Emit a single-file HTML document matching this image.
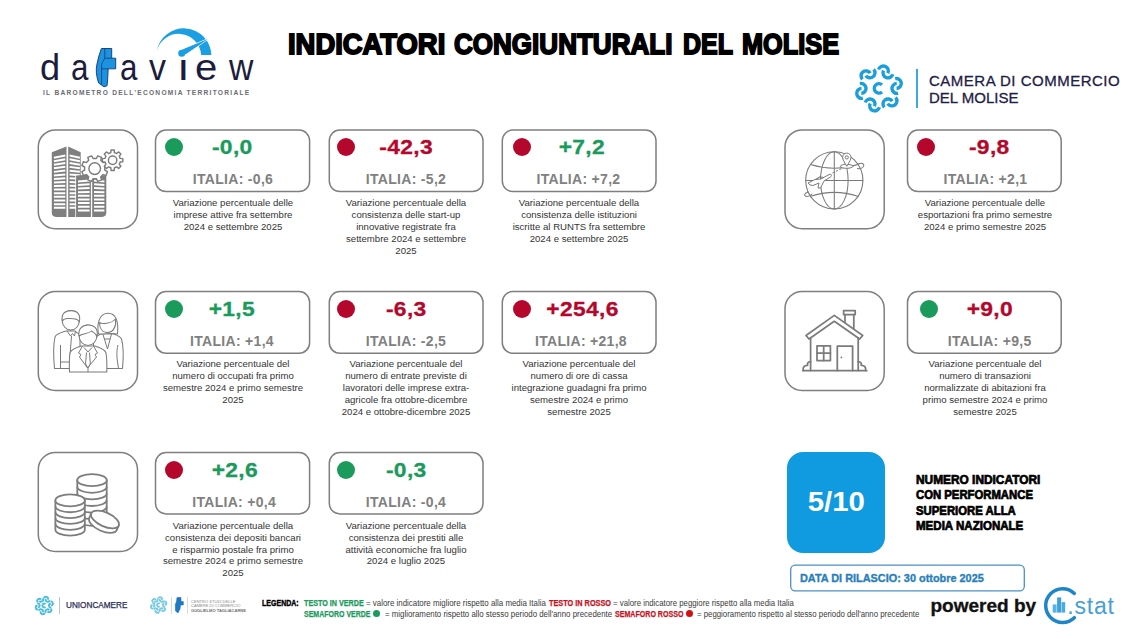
<!DOCTYPE html>
<html lang="it">
<head>
<meta charset="utf-8">
<title>Indicatori congiunturali del Molise</title>
<style>
*{margin:0;padding:0;box-sizing:border-box}
html,body{width:1140px;height:641px;background:#fff;overflow:hidden}
body{position:relative;font-family:"Liberation Sans",sans-serif;color:#333}
.abs{position:absolute}
.title{position:absolute;left:287.5px;top:26.5px;width:552px;height:34px;white-space:nowrap;font-weight:700;font-size:28.6px;line-height:34px;color:#000;-webkit-text-stroke:1.8px #000}
.title span{position:absolute;top:0;display:block;transform-origin:0 50%}
.ibox{position:absolute;width:101px;height:101px;border:2px solid transparent;border-radius:16px}
.ibox svg{position:absolute;left:-2px;top:-2px;width:101px;height:100px;overflow:visible}
.card{position:absolute;width:156px;height:63px;border:2px solid transparent;border-radius:11px}
.dot{position:absolute;left:7px;top:7px;width:18px;height:18px;border-radius:50%}
.g{background:#1a9a5b}
.r{background:#b5072b}
.val{position:absolute;left:0;top:3px;width:152px;text-align:center;font-weight:700;font-size:20.5px;line-height:26px;white-space:nowrap;-webkit-text-stroke:.3px}
.val span{display:inline-block;transform:scaleX(1.113);letter-spacing:.3px}
.tg{color:#1a9a5b}
.tr{color:#b5072b}
.ita{position:absolute;left:0;top:39px;width:152px;text-align:center;font-weight:700;font-size:14px;line-height:18px;color:#808080;white-space:nowrap;letter-spacing:.3px}
.desc{position:absolute;width:172px;text-align:center;font-size:9.6px;line-height:11.95px;color:#343434;white-space:nowrap}

.dv{top:47px;font-size:36.5px;line-height:42px;color:#1c1d3c;white-space:nowrap;transform-origin:0 80%}
.cc{left:929px;font-size:15px;line-height:18px;color:#1e2046;white-space:nowrap;transform-origin:0 50%;-webkit-text-stroke:.3px #1e2046}
.num{left:916px;top:472.8px;font-weight:700;font-size:12px;line-height:15.5px;color:#000;white-space:nowrap;-webkit-text-stroke:.7px #000}
.lg{font-size:8.4px;line-height:10px;color:#333;white-space:nowrap;transform-origin:0 50%}
.k0{color:#000;font-weight:700;-webkit-text-stroke:.4px #000}
.kg{color:#1a9a5b;font-weight:700;-webkit-text-stroke:.25px #1a9a5b}
.kr{color:#c4131f;font-weight:700;-webkit-text-stroke:.25px #c4131f}
.kt{color:#3a3a3a}
.ld{width:7.6px;height:7.6px;border-radius:50%}
.num span{display:block;transform-origin:0 50%}
</style>
</head>
<body>

<div class="title"><span class="tw" id="tw1" style="left:0px;transform:scaleX(0.958)">INDICATORI</span><span class="tw" id="tw2" style="left:166.5px;transform:scaleX(0.9105)">CONGIUNTURALI</span><span class="tw" id="tw3" style="left:395.5px;transform:scaleX(0.8743)">DEL</span><span class="tw" id="tw4" style="left:454.5px;transform:scaleX(0.8850)">MOLISE</span></div>


<!-- DATAVIEW LOGO -->
<svg class="abs" style="left:30px;top:20px" width="240" height="90" viewBox="30 20 240 90">
<path d="M156.7 51.2A27.56 27.56 0 0 1 211.4 55L201.2 55A22.58 22.58 0 0 0 156.7 51.2Z" fill="#1c9ee3"/>
<g stroke="#fff" stroke-width="1.6" paint-order="stroke" fill="#1c9ee3" stroke-linejoin="round"><path d="M207.6 39.2L183.2 55.8L180.4 50.4Z"/><circle cx="181.7" cy="53.2" r="3.5"/></g>
<path d="M207.6 39.2L183.2 55.8L180.4 50.4Z" fill="#1c9ee3"/>
<path d="M101.4 48.5L111.7 48.5L111.7 58.2L115.7 58.2L115.7 68.8L108.2 68.8L107.6 80L107 85.8L104 86.8L98.6 83Q95 72 97 64Q98.5 56 101.4 48.5Z" fill="#1c93e0" stroke="#17457f" stroke-width="1" stroke-linejoin="round"/>
<path d="M104.8 48.5L104.8 58.2L111.7 58.2M104.8 58.2L101.6 64L101.6 84.5M101.6 68.8L108.2 68.8" fill="none" stroke="#17457f" stroke-width=".9"/>
</svg>
<div class="abs dv" id="dv0" style="left:39.9px;transform:scaleX(0.99)">d</div><div class="abs dv" id="dv1" style="left:70.6px;transform:scaleX(0.86)">a</div><div class="abs dv" id="dv2" style="left:119.9px;transform:scaleX(0.86)">a</div><div class="abs dv" id="dv3" style="left:148.9px;transform:scaleX(0.93)">v</div><div class="abs dv" id="dv4" style="left:176.8px;transform:scaleX(1.25)">&#305;</div><div class="abs dv" id="dv5" style="left:195.2px;transform:scaleX(1.1)">e</div><div class="abs dv" id="dv6" style="left:228.5px;transform:scaleX(0.925)">w</div>
<div class="abs" style="left:43px;top:88px;font-size:6.6px;line-height:10px;letter-spacing:1.27px;color:#6b6b73;white-space:nowrap;font-weight:700" id="dvsub">IL BAROMETRO DELL'ECONOMIA TERRITORIALE</div>

<!-- CAMERA DI COMMERCIO -->
<svg class="abs" style="left:850px;top:58px" width="62" height="62" viewBox="850 58 62 62"><g fill="none" stroke="#1b9fdb" stroke-width="3.4" stroke-linecap="butt"><g transform="translate(885.67 71.90) rotate(-68)"><path d="M-0.44 -7.48A5.0 5.0 0 1 1 -0.44 2.48"/><path d="M0.44 -2.48A5.0 5.0 0 1 0 0.44 7.48"/></g><g transform="translate(896.63 85.92) rotate(-8)"><path d="M-0.44 -7.48A5.0 5.0 0 1 1 -0.44 2.48"/><path d="M0.44 -2.48A5.0 5.0 0 1 0 0.44 7.48"/></g><g transform="translate(889.96 102.43) rotate(52)"><path d="M-0.44 -7.48A5.0 5.0 0 1 1 -0.44 2.48"/><path d="M0.44 -2.48A5.0 5.0 0 1 0 0.44 7.48"/></g><g transform="translate(872.33 104.90) rotate(112)"><path d="M-0.44 -7.48A5.0 5.0 0 1 1 -0.44 2.48"/><path d="M0.44 -2.48A5.0 5.0 0 1 0 0.44 7.48"/></g><g transform="translate(861.37 90.88) rotate(172)"><path d="M-0.44 -7.48A5.0 5.0 0 1 1 -0.44 2.48"/><path d="M0.44 -2.48A5.0 5.0 0 1 0 0.44 7.48"/></g><g transform="translate(868.04 74.37) rotate(232)"><path d="M-0.44 -7.48A5.0 5.0 0 1 1 -0.44 2.48"/><path d="M0.44 -2.48A5.0 5.0 0 1 0 0.44 7.48"/></g><path d="M882.02 84.80A4.7 4.7 0 1 0 882.02 92.00"/></g></svg>
<div class="abs" style="left:916px;top:69px;width:1.5px;height:39px;background:#3aa9e0"></div>
<div class="abs cc" style="top:72px;letter-spacing:.5px" id="cc1">CAMERA DI COMMERCIO</div>
<div class="abs cc" style="top:89px" id="cc2">DEL MOLISE</div>

<!-- BLUE BOX -->
<div class="abs" style="left:787px;top:452px;width:98px;height:101px;border-radius:16px;background:#109be1"></div>
<div class="abs" style="left:787px;top:486.2px;width:98px;text-align:center;color:#fff;font-weight:700;font-size:27px;line-height:32px;white-space:nowrap" id="five"><span style="display:inline-block;transform:scaleX(1.09)">5/10</span></div>
<div class="abs num" id="num"><span style="transform:scaleX(.99)">NUMERO INDICATORI</span><span style="transform:scaleX(.943)">CON PERFORMANCE</span><span style="transform:scaleX(.945)">SUPERIORE ALLA</span><span style="transform:scaleX(.962)">MEDIA NAZIONALE</span></div>

<!-- DATE BOX -->
<svg class="abs" style="left:785px;top:560px" width="250" height="36" viewBox="785 560 250 36"><rect x="790.7" y="565.2" width="233.6" height="25.6" rx="4.6" fill="#fff" stroke="#4a91c4" stroke-width="1.3"/></svg>
<div class="abs" style="left:800px;top:571.1px;font-weight:700;font-size:10.9px;line-height:14px;color:#2a7fba;white-space:nowrap;-webkit-text-stroke:.35px #2a7fba" id="date">DATA DI RILASCIO: 30 ottobre 2025</div>

<!-- FOOTER LOGOS -->
<svg class="abs" style="left:32px;top:594px" width="24" height="24" viewBox="32 594 24 24"><g fill="none" stroke="#4bbdda" stroke-width="1.9" stroke-linecap="butt"><g transform="translate(46.81 599.29) rotate(-68)"><path d="M0 -3.15A2.1 2.1 0 0 1 0 1.05"/><path d="M0 -1.05A2.1 2.1 0 0 0 0 3.15"/></g><g transform="translate(50.93 604.57) rotate(-8)"><path d="M0 -3.15A2.1 2.1 0 0 1 0 1.05"/><path d="M0 -1.05A2.1 2.1 0 0 0 0 3.15"/></g><g transform="translate(48.42 610.78) rotate(52)"><path d="M0 -3.15A2.1 2.1 0 0 1 0 1.05"/><path d="M0 -1.05A2.1 2.1 0 0 0 0 3.15"/></g><g transform="translate(41.79 611.71) rotate(112)"><path d="M0 -3.15A2.1 2.1 0 0 1 0 1.05"/><path d="M0 -1.05A2.1 2.1 0 0 0 0 3.15"/></g><g transform="translate(37.67 606.43) rotate(172)"><path d="M0 -3.15A2.1 2.1 0 0 1 0 1.05"/><path d="M0 -1.05A2.1 2.1 0 0 0 0 3.15"/></g><g transform="translate(40.18 600.22) rotate(232)"><path d="M0 -3.15A2.1 2.1 0 0 1 0 1.05"/><path d="M0 -1.05A2.1 2.1 0 0 0 0 3.15"/></g><path d="M45.52 604.04A1.9 1.9 0 1 0 45.52 606.96"/></g></svg>
<div class="abs" style="left:59px;top:597px;width:1px;height:17px;background:#b4c6d2"></div>
<div class="abs" style="left:66px;top:600px;font-size:8.2px;line-height:11px;color:#2b2f57;white-space:nowrap;-webkit-text-stroke:.25px #2b2f57" id="unc">UNIONCAMERE</div>
<svg class="abs" style="left:147px;top:594px" width="24" height="24" viewBox="147 594 24 24"><g fill="none" stroke="#74c9e0" stroke-width="1.8" stroke-linecap="butt"><g transform="translate(160.95 599.44) rotate(-68)"><path d="M0 -2.85A1.9 1.9 0 0 1 0 0.95"/><path d="M0 -0.95A1.9 1.9 0 0 0 0 2.85"/></g><g transform="translate(164.64 604.16) rotate(-8)"><path d="M0 -2.85A1.9 1.9 0 0 1 0 0.95"/><path d="M0 -0.95A1.9 1.9 0 0 0 0 2.85"/></g><g transform="translate(162.39 609.73) rotate(52)"><path d="M0 -2.85A1.9 1.9 0 0 1 0 0.95"/><path d="M0 -0.95A1.9 1.9 0 0 0 0 2.85"/></g><g transform="translate(156.45 610.56) rotate(112)"><path d="M0 -2.85A1.9 1.9 0 0 1 0 0.95"/><path d="M0 -0.95A1.9 1.9 0 0 0 0 2.85"/></g><g transform="translate(152.76 605.84) rotate(172)"><path d="M0 -2.85A1.9 1.9 0 0 1 0 0.95"/><path d="M0 -0.95A1.9 1.9 0 0 0 0 2.85"/></g><g transform="translate(155.01 600.27) rotate(232)"><path d="M0 -2.85A1.9 1.9 0 0 1 0 0.95"/><path d="M0 -0.95A1.9 1.9 0 0 0 0 2.85"/></g><path d="M159.79 603.70A1.7 1.7 0 1 0 159.79 606.30"/></g></svg>
<div class="abs" style="left:171px;top:597px;width:1px;height:17px;background:#cfdbe3"></div>
<svg class="abs" style="left:173px;top:596px" width="12" height="19" viewBox="173 596 12 19"><path d="M177 597.5L181 597.5L181 601.5L183.3 601.5L183.3 605L180.5 605L180 609L178 613L175.5 611L175.3 604.5L176.5 601.5Z" fill="#1b7bc6" stroke="#1d5fa5" stroke-width=".5"/></svg>
<div class="abs" style="left:187px;top:597px;width:1px;height:17px;background:#d3dde4"></div>
<div class="abs" style="left:191px;top:599.7px;font-size:4.07px;line-height:4.65px;color:#8a8a8a;white-space:nowrap" id="cst">CENTRO STUDI DELLE<br>CAMERE DI COMMERCIO<br><b style="color:#6f6f6f">GUGLIELMO TAGLIACARNE</b></div>

<!-- LEGEND -->
<div class="abs lg k0" id="l0" style="left:261.5px;top:598.3px;transform:scaleX(0.8389)">LEGENDA:</div>
<div class="abs lg kg" id="l1" style="left:304.2px;top:598.3px;transform:scaleX(0.8571)">TESTO IN VERDE</div>
<div class="abs lg kt" id="l2" style="left:366.0px;top:598.3px;transform:scaleX(0.9431)">= valore indicatore migliore rispetto alla media Italia</div>
<div class="abs lg kr" id="l3" style="left:548.8px;top:598.3px;transform:scaleX(0.8727)">TESTO IN ROSSO</div>
<div class="abs lg kt" id="l4" style="left:613.0px;top:598.3px;transform:scaleX(0.9324)">= valore indicatore peggiore rispetto alla media Italia</div>
<div class="abs lg kg" id="l5" style="left:304.2px;top:608.5px;transform:scaleX(0.8357)">SEMAFORO VERDE</div>
<div class="abs lg kt" id="l6" style="left:384.7px;top:608.5px;transform:scaleX(0.9399)">= miglioramento rispetto allo stesso periodo dell'anno precedente</div>
<div class="abs lg kr" id="l7" style="left:615.3px;top:608.5px;transform:scaleX(0.8448)">SEMAFORO ROSSO</div>
<div class="abs lg kt" id="l8" style="left:697.4px;top:608.5px;transform:scaleX(0.9326)">= peggioramento rispetto al stesso periodo dell'anno precedente</div>
<div class="abs ld g" style="left:372.9px;top:609.7px"></div>
<div class="abs ld" style="left:685.7px;top:609.7px;background:#d40f14"></div>
<!-- POWERED BY -->
<div class="abs" style="left:930.5px;top:594px;font-weight:700;font-size:19px;line-height:24px;color:#111;white-space:nowrap;-webkit-text-stroke:.35px #111" id="pw">powered by</div>
<svg class="abs" style="left:1040px;top:584px" width="80" height="46" viewBox="1040 584 80 46">
<path d="M1074.34 593.39A16.9 16.9 0 1 0 1074.34 617.71" fill="none" stroke="#1d86c9" stroke-width="3.5" stroke-linecap="round"/>
<rect x="1052.7" y="604.4" width="3.9" height="8.2" fill="#56b4e6"/><rect x="1057.1" y="597.4" width="4.1" height="15.2" fill="#3da2dc"/><rect x="1061.6" y="602.1" width="3.6" height="10.5" fill="#4aabe1"/>
</svg>
<div class="abs" style="left:1067.3px;top:591.6px;font-size:23px;line-height:28px;color:#469fd6;white-space:nowrap;letter-spacing:.8px" id="stat">.stat</div>

<svg class="abs" style="left:0;top:0" width="1140" height="641" viewBox="0 0 1140 641"><g fill="#fff" stroke="#7f7f7f" stroke-width="1.5"><rect x="38.3" y="129.9" width="99.2" height="98.9" rx="17"/><rect x="38.3" y="291.5" width="99.2" height="98.9" rx="17"/><rect x="38.3" y="452.5" width="99.2" height="98.9" rx="17"/><rect x="785.0" y="129.9" width="99.2" height="98.9" rx="17"/><rect x="785.0" y="291.5" width="99.2" height="98.9" rx="17"/><rect x="155.5" y="130.1" width="154.1" height="61.4" rx="10.5"/><rect x="329.3" y="130.1" width="153.7" height="61.4" rx="10.5"/><rect x="502.3" y="130.1" width="153.7" height="61.4" rx="10.5"/><rect x="907.5" y="130.1" width="153.7" height="61.4" rx="10.5"/><rect x="155.5" y="291.6" width="154.1" height="61.6" rx="10.5"/><rect x="329.3" y="291.6" width="153.7" height="61.6" rx="10.5"/><rect x="502.3" y="291.6" width="153.7" height="61.6" rx="10.5"/><rect x="907.5" y="291.6" width="153.7" height="61.6" rx="10.5"/><rect x="155.5" y="452.6" width="154.1" height="61.3" rx="10.5"/><rect x="329.3" y="452.6" width="153.7" height="61.3" rx="10.5"/></g></svg>
<!-- ROW 1 -->
<div class="ibox" style="left:37px;top:129px" id="ib1"><svg viewBox="37 129 101 100"><defs><clipPath id="t1"><path d="M51.8 152.2L66.5 146.6L66.5 216.9L56 216.9Q51.8 216.9 51.8 212.5Z"/></clipPath><clipPath id="t2"><path d="M68.2 146.6L80.7 152.2L80.7 216.9L68.2 216.9Z"/></clipPath><clipPath id="t3"><path d="M76.1 175.6L90.9 174.4L90.9 216.9L76.1 216.9Z"/></clipPath><clipPath id="t4"><path d="M92.2 174.4L106.3 175.6L106.3 212.5Q106.3 216.9 102 216.9L92.2 216.9Z"/></clipPath></defs><g clip-path="url(#t1)"><rect x="51" y="146" width="16" height="72" fill="#7f7f7f"/><path d="M53.9 157.80L65.3 155.40M53.9 161.32L65.3 159.20M53.9 164.83L65.3 163.01M53.9 168.35L65.3 166.81M53.9 171.87L65.3 170.61M53.9 175.39L65.3 174.41M53.9 178.90L65.3 178.22M53.9 182.42L65.3 182.02M53.9 185.94L65.3 185.82M53.9 189.54L65.3 189.54M53.9 193.20L65.3 193.20M53.9 196.86L65.3 196.86M53.9 200.52L65.3 200.52M53.9 204.18L65.3 204.18M53.9 207.84L65.3 207.84" stroke="#fff" stroke-width="2.0" fill="none"/></g><g clip-path="url(#t2)"><rect x="67" y="146" width="14" height="72" fill="#7f7f7f"/><path d="M69.6 155.50L79.9 157.70M69.6 159.29L79.9 161.23M69.6 163.08L79.9 164.76M69.6 166.87L79.9 168.29M69.6 170.66L79.9 171.82M69.6 174.45L79.9 175.35M69.6 178.25L79.9 178.87M69.6 182.04L79.9 182.40M69.6 185.83L79.9 185.93M69.6 189.54L79.9 189.54M69.6 193.20L79.9 193.20M69.6 196.86L79.9 196.86M69.6 200.52L79.9 200.52M69.6 204.18L79.9 204.18M69.6 207.84L79.9 207.84" stroke="#fff" stroke-width="2.0" fill="none"/></g><rect x="75.3" y="175" width="1.2" height="42" fill="#fff"/><g clip-path="url(#t3)"><rect x="76" y="174" width="16" height="44" fill="#7f7f7f"/><path d="M78 181.40L89.6 180.60M78 184.99L89.6 184.36M78 188.58L89.6 188.12M78 192.18L89.6 191.88M78 195.77L89.6 195.63M78 199.38L89.6 199.38M78 203.05L89.6 203.05M78 206.73L89.6 206.73M78 210.40L89.6 210.40" stroke="#fff" stroke-width="2.0" fill="none"/></g><g clip-path="url(#t4)"><rect x="91" y="174" width="16" height="44" fill="#7f7f7f"/><path d="M94 180.60L104.4 181.40M94 184.36L104.4 184.99M94 188.12L104.4 188.58M94 191.88L104.4 192.18M94 195.63L104.4 195.77M94 199.38L104.4 199.38M94 203.05L104.4 203.05M94 206.73L104.4 206.73M94 210.40L104.4 210.40" stroke="#fff" stroke-width="2.0" fill="none"/></g><path d="M104.8 170.2L107.5 171.7L106.0 175.5L103.0 174.6L100.7 176.9L101.6 179.9L97.8 181.4L96.3 178.7L93.1 178.7L91.6 181.4L87.8 179.9L88.7 176.9L86.4 174.6L83.4 175.5L81.9 171.7L84.6 170.2L84.6 167.0L81.9 165.5L83.4 161.7L86.4 162.6L88.7 160.3L87.8 157.3L91.6 155.8L93.1 158.5L96.3 158.5L97.8 155.8L101.6 157.3L100.7 160.3L103.0 162.6L106.0 161.7L107.5 165.5L104.8 167.0Z" fill="#fff" stroke="#7d7d7d" stroke-width="1.45" stroke-linejoin="round"/><circle cx="94.7" cy="168.6" r="5.8" fill="#fff" stroke="#7d7d7d" stroke-width="1.45"/><path d="M120.2 158.4L122.8 158.6L122.8 161.8L120.2 162.0L119.3 164.3L120.9 166.3L118.7 168.5L116.7 166.9L114.4 167.8L114.2 170.4L111.0 170.4L110.8 167.8L108.5 166.9L106.5 168.5L104.3 166.3L105.9 164.3L105.0 162.0L102.4 161.8L102.4 158.6L105.0 158.4L105.9 156.1L104.3 154.1L106.5 151.9L108.5 153.5L110.8 152.6L111.0 150.0L114.2 150.0L114.4 152.6L116.7 153.5L118.7 151.9L120.9 154.1L119.3 156.1Z" fill="#fff" stroke="#7d7d7d" stroke-width="1.45" stroke-linejoin="round"/><circle cx="112.6" cy="160.2" r="4.2" fill="#fff" stroke="#7d7d7d" stroke-width="1.45"/></svg></div>
<div class="card" style="left:155px;top:129px"><div class="dot g" style="left:7.7px"></div><div class="val tg" style="left:-1.0px"><span>-0,0</span></div><div class="ita" style="left:0.0px">ITALIA: -0,6</div></div>
<div class="desc" style="left:147px;top:197px">Variazione percentuale delle<br>imprese attive fra settembre<br>2024 e settembre 2025</div>

<div class="card" style="left:328px;top:129px"><div class="dot r" style="left:7.0px"></div><div class="val tr" style="left:0.0px"><span>-42,3</span></div><div class="ita" style="left:0.0px">ITALIA: -5,2</div></div>
<div class="desc" style="left:320px;top:197px">Variazione percentuale della<br>consistenza delle start-up<br>innovative registrate fra<br>settembre 2024 e settembre<br>2025</div>

<div class="card" style="left:501px;top:129px"><div class="dot r" style="left:9.9px"></div><div class="val tg" style="left:2.9px"><span>+7,2</span></div><div class="ita" style="left:-0.5px">ITALIA: +7,2</div></div>
<div class="desc" style="left:493px;top:197px">Variazione percentuale della<br>consistenza delle istituzioni<br>iscritte al RUNTS fra settembre<br>2024 e settembre 2025</div>

<div class="ibox" style="left:784px;top:129px" id="ib4"><svg viewBox="784 129 101 100"><circle cx="834.3" cy="180.4" r="28.6" fill="#fff" stroke="#7a7a7a" stroke-width="1.1"/><ellipse cx="834.3" cy="180.4" rx="13.8" ry="28.6" fill="none" stroke="#7a7a7a" stroke-width="1.05" stroke-linecap="round"/><path d="M834.3 151.8L834.3 209.0M805.6999999999999 180.4L862.9 180.4" fill="none" stroke="#7a7a7a" stroke-width="1.05" stroke-linecap="round"/><path d="M810.5 164.5Q834.3 172 858 164.5M810.5 196.3Q834.3 188.5 858 196.3" fill="none" stroke="#7a7a7a" stroke-width="1.05" stroke-linecap="round"/><path d="M808 192C804 193 803.5 196.5 807 196.5C809 196.5 811 195 812 194M858 164C863 162 865 164.5 863 167C861 169 859 169 857.5 168.5" fill="none" stroke="#7a7a7a" stroke-width="1.05" stroke-linecap="round"/><path d="M808 183L815 179.5L821 179L829 174.5C832 173.5 832 176 830.5 177L824 181L820.5 188L818 188L819 183L813 185.5L810 185Z" fill="#fff" stroke="#7a7a7a" stroke-width="1" stroke-linejoin="round"/><path d="M816 179.3L820 176.8L823.5 177.6" fill="none" stroke="#7a7a7a" stroke-width="1.05" stroke-linecap="round"/><path d="M832.5 173L846 166.5" fill="none" stroke="#7a7a7a" stroke-width="1" stroke-dasharray="2.2 1.6"/><ellipse cx="846.6" cy="166.3" rx="6.2" ry="2" fill="#fff" stroke="#7a7a7a" stroke-width="1"/><path d="M846.8 166.3C844 161.5 842.6 159.5 842.6 157.3A4.2 4.2 0 0 1 851 157.3C851 159.5 849.6 161.5 846.8 166.3Z" fill="#fff" stroke="#7a7a7a" stroke-width="1"/><circle cx="846.8" cy="157.4" r="1.6" fill="#fff" stroke="#7a7a7a" stroke-width="1"/></svg></div>
<div class="card" style="left:907px;top:129px"><div class="dot r" style="left:8.3px"></div><div class="val tr" style="left:4.2px"><span>-9,8</span></div><div class="ita" style="left:0.5px">ITALIA: +2,1</div></div>
<div class="desc" style="left:899px;top:197px">Variazione percentuale delle<br>esportazioni fra primo semestre<br>2024 e primo semestre 2025</div>

<!-- ROW 2 -->
<div class="ibox" style="left:37px;top:291px" id="ib2"><svg viewBox="37 291 101 100"><path d="M66 331C60 333 56 334 55 337C53 346 53.5 358 54.5 368.5L80 368.5L80 334C77 333 75.5 332 75 331Z" fill="#fff" stroke="#7a7a7a" stroke-width="1.05" stroke-linejoin="round" stroke-linecap="round"/><path d="M67 331L70.5 336L72.5 333.5L74.5 336L75.5 331M71.5 336L70 356L72.5 361M60.5 345L60.5 368M60.5 362L69 362" fill="none" stroke="#7a7a7a" stroke-width="1"/><ellipse cx="70.8" cy="320.3" rx="8.6" ry="9.8" fill="#fff" stroke="#7a7a7a" stroke-width="1.05" stroke-linejoin="round" stroke-linecap="round"/><path d="M62.3 321C61 314 65 310.6 71 310.6C77.5 310.6 81 315 79.3 322C78 318.5 74 318.5 70 318.5C66.5 318.5 64.5 317.5 62.3 321Z" fill="#fff" stroke="#7a7a7a" stroke-width="1.05" stroke-linejoin="round" stroke-linecap="round"/><path d="M101 334C97 336 94 337 93.5 341L93.5 368.5L122.5 368.5C123.5 358 123.5 346 121.5 339C120 336 116 335 112.5 333.5Z" fill="#fff" stroke="#7a7a7a" stroke-width="1.05" stroke-linejoin="round" stroke-linecap="round"/><path d="M103 334.5L107.5 349L111.5 334M104.5 339L110 339M118 345C116 352 117 360 118.5 368" fill="none" stroke="#7a7a7a" stroke-width="1"/><path d="M98.5 334C97 326 98 314 107.5 313.3C117 313 118.5 323 117.5 334L112.5 333.5L101 334Z" fill="#fff" stroke="#7a7a7a" stroke-width="1.05" stroke-linejoin="round" stroke-linecap="round"/><path d="M99.5 322.5C102 324 111 324 115.5 319C116.5 326 113.5 332.5 107.5 332.5C102 332.5 99.5 328 99.5 322.5Z" fill="#fff" stroke="#7a7a7a" stroke-width="1.05" stroke-linejoin="round" stroke-linecap="round"/><path d="M81 346C76 348 71 349 70 353C69 359 69.3 366 69.5 372L106.8 372C107 366 107 359 106 353C105 349 100 348 95 346Z" fill="#fff" stroke="#7a7a7a" stroke-width="1.05" stroke-linejoin="round" stroke-linecap="round"/><path d="M82.5 346L78.5 353L81 354.5L79.5 357L87.5 368L96.5 357L95 354.5L97.5 353L93.5 346M84 347.5L88 352L92 347.5M86.5 352.5L85.5 364L88 368L90.3 364L89.5 352.5M88 368L88 372" fill="none" stroke="#7a7a7a" stroke-width="1"/><ellipse cx="88" cy="335.3" rx="9" ry="10.2" fill="#fff" stroke="#7a7a7a" stroke-width="1.05" stroke-linejoin="round" stroke-linecap="round"/><path d="M79 336C78 329 82 325 88 325C94.5 325 98.5 329 97 336.5C95.5 333 93.5 332.5 91.5 331C88.5 334 82.5 333.5 79 336Z" fill="#fff" stroke="#7a7a7a" stroke-width="1.05" stroke-linejoin="round" stroke-linecap="round"/></svg></div>
<div class="card" style="left:155px;top:291px"><div class="dot g" style="left:7.7px"></div><div class="val tg" style="left:-1.5px"><span>+1,5</span></div><div class="ita" style="left:-1.0px">ITALIA: +1,4</div></div>
<div class="desc" style="left:147px;top:358px">Variazione percentuale del<br>numero di occupati fra primo<br>semestre 2024 e primo semestre<br>2025</div>

<div class="card" style="left:328px;top:291px"><div class="dot r" style="left:7.0px"></div><div class="val tr" style="left:0.0px"><span>-6,3</span></div><div class="ita" style="left:0.0px">ITALIA: -2,5</div></div>
<div class="desc" style="left:320px;top:358px">Variazione percentuale del<br>numero di entrate previste di<br>lavoratori delle imprese extra-<br>agricole fra ottobre-dicembre<br>2024 e ottobre-dicembre 2025</div>

<div class="card" style="left:501px;top:291px"><div class="dot r" style="left:9.9px"></div><div class="val tr" style="left:3.3px"><span>+254,6</span></div><div class="ita" style="left:2.0px">ITALIA: +21,8</div></div>
<div class="desc" style="left:493px;top:358px">Variazione percentuale del<br>numero di ore di cassa<br>integrazione guadagni fra primo<br>semestre 2024 e primo<br>semestre 2025</div>

<div class="ibox" style="left:784px;top:291px" id="ib5"><svg viewBox="784 291 101 100"><path d="M845 314.6L845 323.5M853.8 314.6L853.8 331" fill="none" stroke="#7b7b7b" stroke-width="1.75" stroke-linejoin="round" stroke-linecap="round"/><rect x="843.6" y="310.5" width="11.6" height="4.1" fill="none" stroke="#7b7b7b" stroke-width="1.75" stroke-linejoin="round" stroke-linecap="round"/><path d="M834.3 315.4L806 335.5L809 339L834.3 321.3L859.7 339L862.7 335.5Z" fill="#fff" stroke="#7b7b7b" stroke-width="1.75" stroke-linejoin="round"/><path d="M810.6 338L810.6 370.6M858.2 338L858.2 370.6" fill="none" stroke="#7b7b7b" stroke-width="1.75" stroke-linejoin="round" stroke-linecap="round"/><path d="M803 370.6L866.8 370.6" fill="none" stroke="#7b7b7b" stroke-width="1.75" stroke-linejoin="round" stroke-linecap="round"/><path d="M810.6 361.5C808 361.5 807 363.5 807.6 365.3C804.5 365 802.5 367.5 803.2 370.6M858.2 361.5C860.8 361.5 861.8 363.5 861.2 365.3C864.3 365 866.3 367.5 865.6 370.6" fill="none" stroke="#7b7b7b" stroke-width="1.75" stroke-linejoin="round" stroke-linecap="round"/><rect x="817" y="345.8" width="13.4" height="14.8" fill="none" stroke="#7b7b7b" stroke-width="1.75" stroke-linejoin="round" stroke-linecap="round"/><path d="M823.7 345.8L823.7 360.6M817 353.2L830.4 353.2" fill="none" stroke="#7b7b7b" stroke-width="1.75" stroke-linejoin="round" stroke-linecap="round"/><path d="M837.3 370.6L837.3 346L852.6 346L852.6 370.6" fill="none" stroke="#7b7b7b" stroke-width="1.75" stroke-linejoin="round" stroke-linecap="round"/><circle cx="841.4" cy="357.4" r=".9" fill="#7b7b7b"/></svg></div>
<div class="card" style="left:907px;top:291px"><div class="dot g" style="left:10.5px"></div><div class="val tr" style="left:4.7px"><span>+9,0</span></div><div class="ita" style="left:4.7px">ITALIA: +9,5</div></div>
<div class="desc" style="left:899px;top:358px">Variazione percentuale del<br>numero di transazioni<br>normalizzate di abitazioni fra<br>primo semestre 2024 e primo<br>semestre 2025</div>

<!-- ROW 3 -->
<div class="ibox" style="left:37px;top:452px" id="ib3"><svg viewBox="37 452 101 100"><path d="M77.3 480.2L77.3 519.8A14.7 6.0 0 0 0 106.7 519.8L106.7 480.2Z" fill="#fff" stroke="#7d7d7d" stroke-width="1.8" stroke-linejoin="round"/><path d="M77.3 486.8A14.7 6.0 0 0 0 106.7 486.8" fill="none" stroke="#7d7d7d" stroke-width="1.8"/><path d="M77.3 493.4A14.7 6.0 0 0 0 106.7 493.4" fill="none" stroke="#7d7d7d" stroke-width="1.8"/><path d="M77.3 500.0A14.7 6.0 0 0 0 106.7 500.0" fill="none" stroke="#7d7d7d" stroke-width="1.8"/><path d="M77.3 506.59999999999997A14.7 6.0 0 0 0 106.7 506.59999999999997" fill="none" stroke="#7d7d7d" stroke-width="1.8"/><path d="M77.3 513.2A14.7 6.0 0 0 0 106.7 513.2" fill="none" stroke="#7d7d7d" stroke-width="1.8"/><ellipse cx="92" cy="480.2" rx="14.7" ry="6.0" fill="#fff" stroke="#7d7d7d" stroke-width="1.8" stroke-linejoin="round"/><path d="M55.39999999999999 500.4L55.39999999999999 529.65A14.7 6.0 0 0 0 84.8 529.65L84.8 500.4Z" fill="#fff" stroke="#7d7d7d" stroke-width="1.8" stroke-linejoin="round"/><path d="M55.39999999999999 506.25A14.7 6.0 0 0 0 84.8 506.25" fill="none" stroke="#7d7d7d" stroke-width="1.8"/><path d="M55.39999999999999 512.1A14.7 6.0 0 0 0 84.8 512.1" fill="none" stroke="#7d7d7d" stroke-width="1.8"/><path d="M55.39999999999999 517.9499999999999A14.7 6.0 0 0 0 84.8 517.9499999999999" fill="none" stroke="#7d7d7d" stroke-width="1.8"/><path d="M55.39999999999999 523.8A14.7 6.0 0 0 0 84.8 523.8" fill="none" stroke="#7d7d7d" stroke-width="1.8"/><ellipse cx="70.1" cy="500.4" rx="14.7" ry="6.0" fill="#fff" stroke="#7d7d7d" stroke-width="1.8" stroke-linejoin="round"/><g transform="translate(105 519.5) rotate(24)"><path d="M-15 0L-15 5A15 7 0 0 0 15 5L15 0Z" fill="#fff" stroke="#7d7d7d" stroke-width="1.8" stroke-linejoin="round"/><ellipse cx="0" cy="0" rx="15" ry="7" fill="#fff" stroke="#7d7d7d" stroke-width="1.8" stroke-linejoin="round"/></g></svg></div>
<div class="card" style="left:155px;top:452px"><div class="dot r" style="left:7.9px"></div><div class="val tg" style="left:1.4px"><span>+2,6</span></div><div class="ita" style="left:1.2px">ITALIA: +0,4</div></div>
<div class="desc" style="left:147px;top:519.6px">Variazione percentuale della<br>consistenza dei depositi bancari<br>e risparmio postale fra primo<br>semestre 2024 e primo semestre<br>2025</div>

<div class="card" style="left:328px;top:452px"><div class="dot g" style="left:7.0px"></div><div class="val tg" style="left:0.0px"><span>-0,3</span></div><div class="ita" style="left:0.0px">ITALIA: -0,4</div></div>
<div class="desc" style="left:320px;top:519.6px">Variazione percentuale della<br>consistenza dei prestiti alle<br>attività economiche fra luglio<br>2024 e luglio 2025</div>

</body>
</html>
